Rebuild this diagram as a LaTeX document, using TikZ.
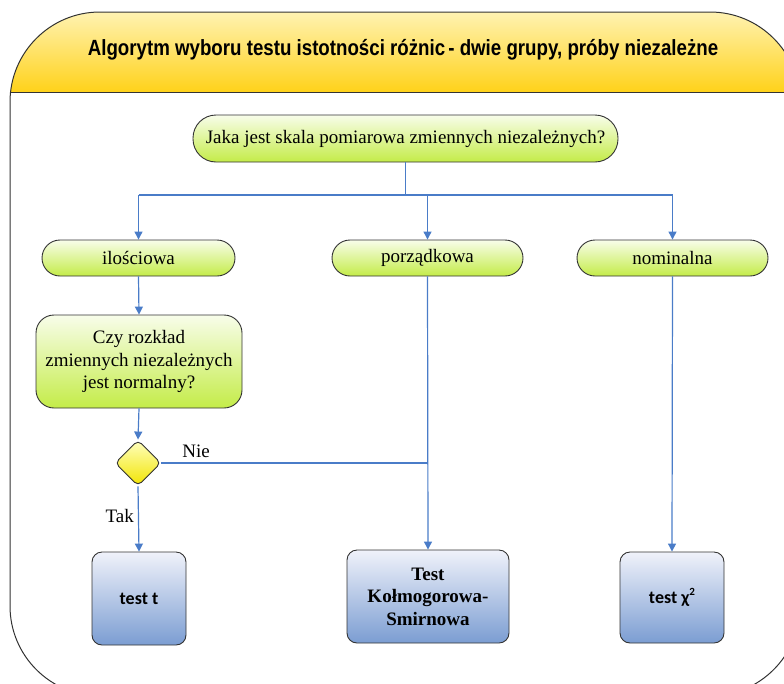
\documentclass[tikz,border=0pt]{standalone}
\usepackage{fontspec}
\setmainfont{Liberation Serif}
\newfontfamily\titlefont{Liberation Sans}
\newfontfamily\boxsans{Carlito}
\usetikzlibrary{shapes.geometric,arrows.meta}
\definecolor{edgeblue}{HTML}{4A7CC8}
\definecolor{outl}{HTML}{333333}
\definecolor{greentop}{HTML}{F8FDEA}
\definecolor{greenbot}{HTML}{C4EC48}
\definecolor{bluetop}{HTML}{F0F2FA}
\definecolor{bluebot}{HTML}{7B9DD2}
\definecolor{yeltop}{HTML}{FFF7C8}
\definecolor{yelbot}{HTML}{FFD21A}
\definecolor{diatop}{HTML}{FFFFC0}
\definecolor{diabot}{HTML}{F2E400}
\tikzset{
  pill/.style={draw=outl, line width=0.9pt, rounded corners=18pt, top color=greentop, bottom color=greenbot,
    minimum height=36pt, minimum width=192pt, inner sep=0pt, font=\fontsize{19}{22}\selectfont},
  qbox/.style={draw=outl, line width=0.9pt, rounded corners=18pt, top color=greentop, bottom color=greenbot,
    align=center, inner sep=0pt, font=\fontsize{19}{22.5}\selectfont},
  resbox/.style={draw=outl, line width=0.9pt, rounded corners=10pt, top color=bluetop, bottom color=bluebot,
    align=center, inner sep=0pt},
  dia/.style={diamond, draw=outl, line width=0.9pt, rounded corners=5pt, top color=diatop, bottom color=diabot,
    minimum width=46pt, minimum height=46pt, inner sep=0pt, aspect=1},
  conn/.style={draw=edgeblue, line width=1.2pt},
  arr/.style={conn, -{Triangle[length=8pt,width=8pt]}},
  lbl/.style={font=\fontsize{19}{22}\selectfont, inner sep=0pt}
}
\begin{document}
\begin{tikzpicture}[x=1pt,y=-1pt]
\clip (0,0) rectangle (784,683);
% outer frame and header
\begin{scope}
  \clip[rounded corners=90pt] (10,12) rectangle (800,696);
  \shade[top color=yeltop, bottom color=yelbot] (0,0) rectangle (810,92);
\end{scope}
\draw[outl, line width=1pt, rounded corners=90pt] (10,12) rectangle (800,696);
\draw[outl, line width=1pt] (10,92) -- (800,92);
\node (title) at (403,50) {\titlefont\bfseries\fontsize{22}{26}\selectfont\scalebox{0.85}[1]{Algorytm wyboru testu istotności różnic\,- dwie grupy, próby niezależne}};

% nodes
\node[pill, minimum width=425pt, minimum height=47pt, rounded corners=23pt] (q) at (405.5,138.5) {Jaka jest skala pomiarowa zmiennych niezależnych?};
\node[pill, minimum width=193pt] (il) at (138.5,258) {ilościowa};
\node[pill, minimum width=191pt] (po) at (427.5,258) {porządkowa};
\node[pill, minimum width=191pt] (no) at (672.5,258) {nominalna};
\node[qbox, minimum width=206pt, minimum height=93pt] (cz) at (139,361.5) {Czy rozkład\\zmiennych niezależnych\\jest normalny?};
\node[dia] (d) at (138,463) {};
\node[resbox, minimum width=94pt, minimum height=93pt, font=\boxsans\bfseries\fontsize{18}{21}\selectfont] (tt) at (139,598.5) {test t};
\node[resbox, minimum width=162pt, minimum height=93pt, font=\bfseries\fontsize{19}{22.5}\selectfont] (ks) at (428,596.5) {Test\\Kołmogorowa-\\Smirnowa};
\node[resbox, minimum width=104pt, minimum height=91pt, font=\boxsans\bfseries\fontsize{18}{21}\selectfont] (ch) at (672,597.5) {test χ\raisebox{8pt}{\fontsize{11}{11}\selectfont 2}};

% connectors
\coordinate (j0) at (405.5,195);
\coordinate (jl) at (138.5,195);
\coordinate (jm) at (427.5,195);
\coordinate (jr) at (672.5,195);
\coordinate (jn) at (427.5,463);
\draw[conn] (q.south) -- (j0);
\draw[conn] (jl) -- (jr);
\draw[arr] (jl) -- (il.north);
\draw[arr] (jm) -- (po.north);
\draw[arr] (jr) -- (no.north);
\draw[arr] (il.south) -- (cz.north);
\draw[arr] (cz.south) -- (d.north);
\draw[arr] (d.south) -- node[lbl, left=4pt, pos=0.45] (tak) {Tak} (tt.north);
\draw[conn] (d.east) -- node[lbl, above=5pt, pos=0.13] (nie) {Nie} (jn);
\draw[arr] (po.south) -- (ks.north);
\draw[arr] (no.south) -- (ch.north);
\end{tikzpicture}
\end{document}
